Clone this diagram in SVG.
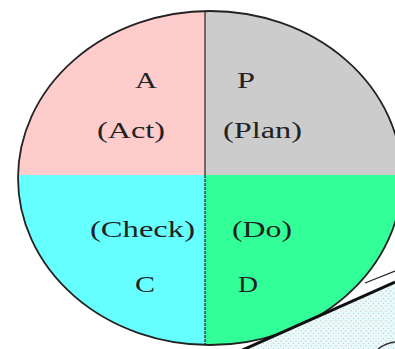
<svg xmlns="http://www.w3.org/2000/svg" width="395" height="349" viewBox="0 0 395 349">
  <style>
    .lbl { font-family: "Liberation Serif", "Times New Roman", serif; font-size: 24px; fill: #222; }
    .div { stroke: #222; stroke-width: 1.2; fill: none; }
  </style>
  <defs>
    <clipPath id="ell">
      <ellipse cx="210" cy="178" rx="192" ry="167"/>
    </clipPath>
    <pattern id="dots" x="0" y="0" width="5" height="5" patternUnits="userSpaceOnUse">
      <rect width="5" height="5" fill="#e8fbfb"/>
      <circle cx="1" cy="1" r="0.7" fill="#e9b9c4"/>
      <circle cx="3.5" cy="3.5" r="0.6" fill="#b9c4cf"/>
    </pattern>
  </defs>
  <rect width="395" height="349" fill="#ffffff"/>

  <line x1="365" y1="283" x2="395" y2="271" stroke="#222" stroke-width="1.3"/>

  <g id="cycle" clip-path="url(#ell)">
    <g id="act"><rect x="0" y="0" width="205" height="175" fill="#ffcccc"/></g>
    <g id="plan"><rect x="205" y="0" width="200" height="175" fill="#cccccc"/></g>
    <g id="check"><rect x="0" y="175" width="205" height="180" fill="#66ffff"/></g>
    <g id="do"><rect x="205" y="175" width="200" height="180" fill="#33ff99"/></g>
  </g>
  <g id="dividers">
    <line class="div" x1="205" y1="11" x2="205" y2="175"/>
    <line class="div" x1="205" y1="175" x2="205" y2="345" stroke-dasharray="3 1" stroke-width="1"/>
  </g>
  <ellipse cx="210" cy="178" rx="192" ry="167" fill="none" stroke="#222" stroke-width="1.8"/>

  <g id="wedge">
    <polygon points="238,352 395,282 395,349 236,349" fill="url(#dots)"/>
    <line x1="238" y1="352" x2="395" y2="282" stroke="#111" stroke-width="3"/>
    <path d="M378,349 Q386,343 395,342" fill="none" stroke="#333" stroke-width="1.5"/>
  </g>

  <g id="labels">
    <text class="lbl" x="135" y="88" textLength="22" lengthAdjust="spacingAndGlyphs">A</text>
    <text class="lbl" x="237" y="88" textLength="18" lengthAdjust="spacingAndGlyphs">P</text>
    <text class="lbl" x="97" y="138" textLength="68" lengthAdjust="spacingAndGlyphs">(Act)</text>
    <text class="lbl" x="223" y="138" textLength="79" lengthAdjust="spacingAndGlyphs">(Plan)</text>
    <text class="lbl" x="90" y="237" textLength="105" lengthAdjust="spacingAndGlyphs">(Check)</text>
    <text class="lbl" x="232" y="237" textLength="60" lengthAdjust="spacingAndGlyphs">(Do)</text>
    <text class="lbl" x="135" y="292" textLength="20" lengthAdjust="spacingAndGlyphs">C</text>
    <text class="lbl" x="238" y="292" textLength="20" lengthAdjust="spacingAndGlyphs">D</text>
  </g>
</svg>
